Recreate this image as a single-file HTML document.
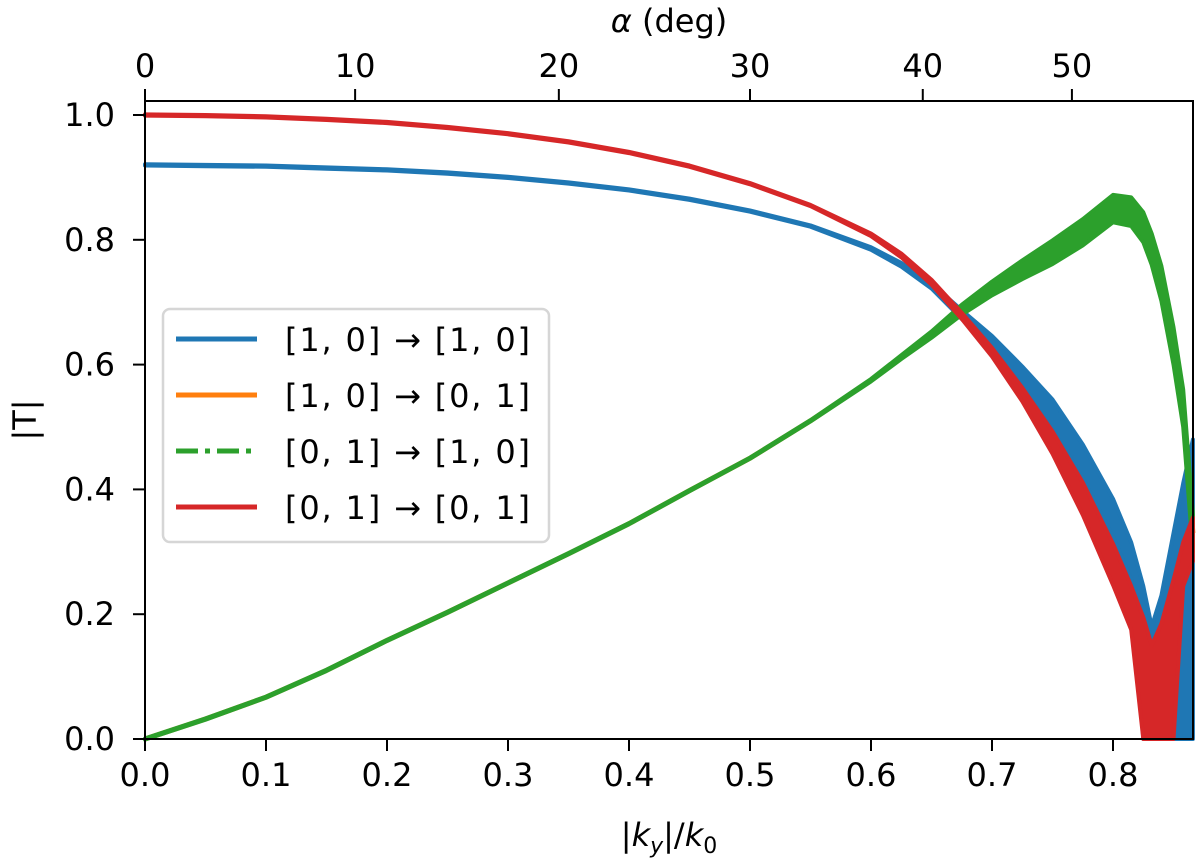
<!DOCTYPE html>
<html><head><meta charset="utf-8"><style>
html,body{margin:0;padding:0;background:#fff;}
svg{display:block;font-family:"DejaVu Sans","Liberation Sans",sans-serif;}
</style></head><body>
<svg id="chart" width="1200" height="862" viewBox="0 0 1200 862" xmlns="http://www.w3.org/2000/svg">
<g id="series"></g>
<g id="axes"></g>
<text x="669" y="846" font-size="32" text-anchor="middle">|<tspan font-style="italic">k</tspan><tspan font-style="italic" font-size="22" dy="7">y</tspan><tspan dy="-7">|/</tspan><tspan font-style="italic">k</tspan><tspan font-size="22" dy="7">0</tspan></text>
<text x="669" y="32" font-size="32" text-anchor="middle"><tspan font-style="italic">α</tspan> (deg)</text>
<text x="0" y="0" font-size="32" text-anchor="middle" transform="translate(36,420) rotate(-90)">|T|</text>
<g id="legend"></g>
</svg>
<script>
const ky =      [0,0.05,0.1,0.15,0.2,0.25,0.3,0.35,0.4,0.45,0.5,0.55,0.6,0.625,0.65,0.675,0.7,0.725,0.75,0.775,0.8,0.815,0.825,0.832,0.84,0.85,0.858,0.866];
const blueMid = [0.920,0.919,0.918,0.915,0.912,0.907,0.900,0.891,0.880,0.865,0.846,0.822,0.786,0.760,0.726,0.680,0.635,0.580,0.520,0.445,0.355,0.285,0.215,0.150,0.200,0.300,0.380,0.450];
const blueHalf =[0.001,0.001,0.001,0.001,0.001,0.001,0.001,0.001,0.001,0.001,0.001,0.001,0.002,0.003,0.004,0.007,0.011,0.017,0.024,0.027,0.030,0.030,0.030,0.030,0.030,0.030,0.030,0.030];
const blueFloor=[1,1,1,1,1,1,1,1,1,1,1,1,1,1,1,1,1,1,1,1,1,1,0,0,0,0,0,0];
const redMid =  [1.000,0.999,0.997,0.993,0.988,0.980,0.970,0.957,0.940,0.918,0.890,0.855,0.808,0.775,0.732,0.678,0.620,0.552,0.475,0.385,0.280,0.210,0.160,0.115,0.150,0.220,0.280,0.320];
const redHalf = [0.001,0.001,0.001,0.001,0.001,0.001,0.001,0.001,0.001,0.001,0.001,0.001,0.002,0.003,0.004,0.005,0.007,0.011,0.018,0.026,0.033,0.035,0.035,0.035,0.035,0.035,0.035,0.035];
const redFloor =[1,1,1,1,1,1,1,1,1,1,1,1,1,1,1,1,1,1,1,1,1,1,0,0,0,0,1,1];
const greenMid =[0.000,0.032,0.067,0.110,0.158,0.203,0.250,0.297,0.345,0.398,0.450,0.510,0.575,0.612,0.648,0.688,0.722,0.752,0.780,0.812,0.850,0.845,0.820,0.785,0.730,0.630,0.530,0.330];
const greenHalf=[0.001,0.001,0.001,0.001,0.001,0.001,0.001,0.001,0.001,0.001,0.001,0.001,0.002,0.003,0.005,0.008,0.011,0.015,0.019,0.021,0.022,0.023,0.024,0.025,0.028,0.030,0.030,0.030];
const xTicks = [0,0.1,0.2,0.3,0.4,0.5,0.6,0.7,0.8];
const yTicks = [0,0.2,0.4,0.6,0.8,1.0];
const alphaTicks = [0,10,20,30,40,50];
const legendLabels = ["[1, 0] → [1, 0]","[1, 0] → [0, 1]","[0, 1] → [1, 0]","[0, 1] → [0, 1]"];

const L=145,R=1193,T=101,B=739;
const xS=v=>L+v*1210;
const yS=v=>B-v*624;
const NS="http://www.w3.org/2000/svg";
function mk(tag,attrs,parent){const e=document.createElementNS(NS,tag);for(const k in attrs)e.setAttribute(k,attrs[k]);parent.appendChild(e);return e;}
const S=document.getElementById('series'),A=document.getElementById('axes'),G=document.getElementById('legend');

function band(mid,half,floor,color,name){
  let pts=[];
  for(let i=0;i<ky.length;i++)pts.push(xS(ky[i]).toFixed(1)+","+yS(mid[i]+half[i]).toFixed(1));
  for(let i=ky.length-1;i>=0;i--){const lo=floor&&floor[i]===0?0:mid[i]-half[i];pts.push(xS(ky[i]).toFixed(1)+","+yS(lo).toFixed(1));}
  const p=mk('polygon',{points:pts.join(" "),fill:color,stroke:color,'stroke-width':4,'stroke-linejoin':'round'},S);
  
  
}
function centerLine(mid,color,name,dash){
  const pts=ky.map((k,i)=>xS(k).toFixed(1)+","+yS(mid[i]).toFixed(1)).join(" ");
  const a={points:pts,fill:'none',stroke:color,'stroke-width':5};
  if(dash)a['stroke-dasharray']=dash;
  const p=mk('polyline',a,S);
  
  
}
band(blueMid,blueHalf,blueFloor,'#1f77b4','series-10-to-10');
centerLine(greenMid,'#ff7f0e','series-10-to-01');
band(greenMid,greenHalf,null,'#2ca02c','series-01-to-10');
band(redMid,redHalf,redFloor,'#d62728','series-01-to-01');

const fr=mk('rect',{x:L,y:T,width:R-L,height:B-T,fill:'none',stroke:'#000','stroke-width':2},A);


xTicks.forEach(v=>{
  const x=xS(v);
  const t=mk('line',{x1:x,x2:x,y1:B,y2:B+12,stroke:'#000','stroke-width':2},A);
  
  
  const l=mk('text',{x:x,y:B+47,'font-size':32,'text-anchor':'middle'},A);
  l.textContent=v.toFixed(1);
  
  
});
yTicks.forEach(v=>{
  const y=yS(v);
  const t=mk('line',{x1:L-12,x2:L,y1:y,y2:y,stroke:'#000','stroke-width':2},A);
  
  
  const l=mk('text',{x:L-30,y:y+11,'font-size':32,'text-anchor':'end'},A);
  l.textContent=v.toFixed(1);
  
  
});
alphaTicks.forEach(v=>{
  const x=xS(Math.sin(v*Math.PI/180));
  const t=mk('line',{x1:x,x2:x,y1:T-12,y2:T,stroke:'#000','stroke-width':2},A);
  
  
  const l=mk('text',{x:x,y:T-24,'font-size':32,'text-anchor':'middle'},A);
  l.textContent=String(v);
  
  
});

const lb=mk('rect',{x:163,y:309,width:386,height:233,rx:7,fill:'rgba(255,255,255,0.85)',stroke:'#d6d6d6','stroke-width':2.5},G);


const lc=['#1f77b4','#ff7f0e','#2ca02c','#d62728'];
legendLabels.forEach((s,i)=>{
  const y=339+i*56;
  const a={x1:176,x2:257,y1:y,y2:y,stroke:lc[i],'stroke-width':5};
  if(i===2)a['stroke-dasharray']='22,7,5,7';
  const ln=mk('line',a,G);
  
  
  const t=mk('text',{x:285,y:y+12,'font-size':32,textLength:245,lengthAdjust:'spacing'},G);
  t.textContent=s;
  
  
});
</script>
</body></html>
